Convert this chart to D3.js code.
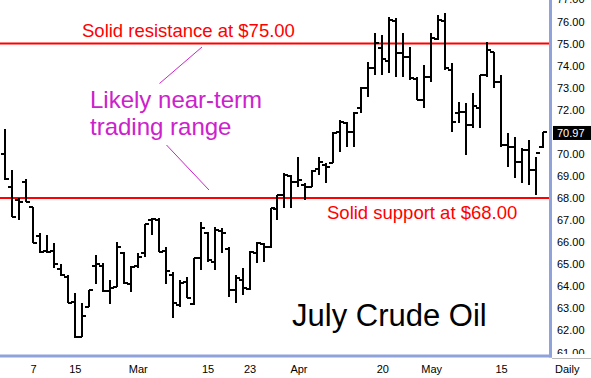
<!DOCTYPE html>
<html>
<head>
<meta charset="utf-8">
<script src="https://cdn.jsdelivr.net/npm/d3@7"></script>
<style>
  html, body { margin: 0; padding: 0; background: #fff; }
  svg { display: block; }
</style>
</head>
<body>
<div id="chart"></div>
<script>
// trading days, Feb 1 - May 23
const dates = [
  "2/1","2/2","2/3","2/6","2/7","2/8","2/9","2/10","2/13","2/14","2/15","2/16","2/17","2/21","2/22","2/23","2/24","2/27","2/28",
  "3/1","3/2","3/3","3/6","3/7","3/8","3/9","3/10","3/13","3/14","3/15","3/16","3/17","3/20","3/21","3/22","3/23","3/24","3/27","3/28","3/29","3/30","3/31",
  "4/3","4/4","4/5","4/6","4/7","4/10","4/11","4/12","4/13","4/17","4/18","4/19","4/20","4/21","4/24","4/25","4/26","4/27","4/28",
  "5/1","5/2","5/3","5/4","5/5","5/8","5/9","5/10","5/11","5/12","5/15","5/16","5/17","5/18","5/19","5/22","5/23"
];
const opens = [
  70.00,68.50,67.90,68.74,67.59,66.30,65.60,65.60,64.80,64.40,63.30,61.70,63.06,64.92,64.90,63.80,63.97,65.50,64.10,
  64.90,65.50,67.00,67.00,65.60,64.51,63.15,64.20,63.20,65.30,66.40,65.11,66.50,65.69,63.83,64.30,63.86,65.50,65.90,65.80,67.50,68.14,69.00,
  68.74,68.60,68.50,69.30,69.50,69.60,71.00,71.38,71.00,72.06,72.97,73.90,74.80,74.21,76.00,74.55,74.40,73.40,72.44,
  73.50,75.20,76.00,73.80,71.85,71.90,71.30,72.10,73.57,74.60,73.27,70.40,70.30,69.64,70.17,69.27,70.30
];
const highs = [
  71.13,69.27,68.00,68.86,67.59,66.41,66.32,65.96,65.00,64.51,63.70,63.24,63.83,65.42,65.05,64.28,66.00,65.55,64.90,
  65.51,66.82,67.09,67.09,65.78,64.65,64.28,64.42,65.28,66.91,66.46,66.68,66.64,65.78,64.51,64.83,65.60,66.00,65.96,67.55,68.14,69.13,69.04,
  69.86,68.67,69.27,69.86,69.59,71.00,71.53,71.45,71.90,73.04,74.18,75.48,75.39,76.20,76.16,75.48,74.84,73.48,74.02,
  75.48,76.29,76.38,74.12,72.35,72.30,72.75,73.57,75.07,74.61,73.57,70.94,70.76,70.26,70.63,69.86,71.00
];
const lows = [
  68.82,67.14,67.00,67.82,65.96,65.51,65.51,64.83,64.47,63.24,61.66,61.70,63.06,64.10,63.74,63.20,63.97,64.10,63.74,
  64.83,65.33,66.32,65.55,64.10,62.56,63.06,63.47,63.15,64.74,65.10,64.74,65.51,63.52,63.24,63.60,63.83,65.05,65.10,65.73,67.00,67.55,67.55,
  68.50,67.90,68.50,69.04,68.68,69.59,70.08,70.31,70.31,71.84,72.59,73.57,73.57,73.66,73.48,73.48,73.34,72.44,72.08,
  73.25,75.16,73.80,70.99,71.40,69.95,71.17,71.17,73.48,72.98,70.31,69.41,68.90,68.68,68.59,68.14,70.26
];
const closes = [
  68.85,67.15,67.80,67.83,65.97,65.55,65.55,65.00,64.50,63.25,61.70,62.67,63.83,65.00,63.80,63.92,65.79,64.15,64.89,
  65.34,66.82,67.05,65.57,64.69,63.23,64.13,63.48,65.27,66.63,65.19,66.55,66.40,63.83,64.36,63.91,65.57,65.96,65.79,67.53,68.14,69.04,68.74,
  68.81,68.51,69.24,69.64,69.42,70.93,71.46,71.00,71.84,72.97,73.88,75.01,74.30,76.06,74.56,74.40,73.42,72.44,73.49,
  75.24,76.06,73.88,71.46,71.90,71.31,72.17,73.57,74.70,73.27,70.40,70.32,69.64,70.17,69.27,70.02,70.97
];

const tickDates = ["2/7", "2/15", "3/1", "3/15", "3/23", "4/3", "4/20", "5/1", "5/15"];
const tickLabels = ["7", "15", "Mar", "15", "23", "Apr", "20", "May", "15"];
const priceTicks = [61, 62, 63, 64, 65, 66, 67, 68, 69, 70, 71, 72, 73, 74, 75, 76, 77];

const resistance = 75;
const support = 68;

function renderCrudeChart() {
    const width = 591, height = 378;
    const plotRight = 551, plotBottom = 357;
    const font = "'Liberation Sans', Arial, sans-serif";
    const blue = "#8fa2da";
    const magenta = "#cc22cc";

    const data = dates.map((d, i) => ({
        date: d, open: opens[i], high: highs[i], low: lows[i], close: closes[i]
    }));

    const svg = d3.select("#chart").append("svg")
        .attr("width", width)
        .attr("height", height)
        .style("background", "#fff");

    const defs = svg.append("defs");
    defs.append("clipPath").attr("id", "plotclip")
        .append("rect").attr("x", 0).attr("y", 0).attr("width", plotRight - 1).attr("height", plotBottom - 2);
    // clip rect is in the axis group's own (translated) coordinates
    defs.append("clipPath").attr("id", "axisclip")
        .append("rect").attr("x", 0).attr("y", -10).attr("width", width - plotRight).attr("height", plotBottom + 7);

    // Scales
    const x = d3.scalePoint()
        .domain(dates)
        .range([5, 543]);

    const y = d3.scaleLinear()
        .domain([61, 77])
        .range([352.5, -0.6]);

    const px = d => Math.round(x(d));

    const plot = svg.append("g").attr("clip-path", "url(#plotclip)");

    // Support / resistance lines
    plot.selectAll(".level")
        .data([resistance, support])
        .enter()
        .append("line")
        .attr("x1", 0)
        .attr("x2", plotRight)
        .attr("y1", d => y(d))
        .attr("y2", d => y(d))
        .attr("stroke", "#ff0000")
        .attr("stroke-width", 2);

    // OHLC bars
    const bars = plot.append("g")
        .attr("stroke", "#000")
        .attr("stroke-width", 2)
        .attr("shape-rendering", "crispEdges");

    bars.selectAll(".hl")
        .data(data)
        .enter()
        .append("line")
        .attr("x1", d => px(d.date))
        .attr("x2", d => px(d.date))
        .attr("y1", d => Math.round(y(d.high)))
        .attr("y2", d => Math.round(y(d.low)));

    bars.selectAll(".op")
        .data(data)
        .enter()
        .append("line")
        .attr("x1", d => px(d.date) - 4)
        .attr("x2", d => px(d.date))
        .attr("y1", d => Math.round(y(d.open)))
        .attr("y2", d => Math.round(y(d.open)));

    bars.selectAll(".cl")
        .data(data)
        .enter()
        .append("line")
        .attr("x1", d => px(d.date))
        .attr("x2", d => px(d.date) + 4)
        .attr("y1", d => Math.round(y(d.close)))
        .attr("y2", d => Math.round(y(d.close)));

    // Right price axis
    const yAxis = svg.append("g")
        .attr("transform", `translate(${plotRight}, 0)`)
        .attr("clip-path", "url(#axisclip)")
        .call(d3.axisRight(y).tickValues(priceTicks).tickFormat(d3.format(".2f")).tickSize(0).tickPadding(6));
    yAxis.select(".domain").remove();
    yAxis.selectAll("text")
        .attr("font-family", font)
        .attr("font-size", 11)
        .attr("fill", "#000");

    // last price box
    const last = closes[closes.length - 1];
    svg.append("rect")
        .attr("x", 553)
        .attr("y", y(last) - 6.5)
        .attr("width", 38)
        .attr("height", 14)
        .attr("fill", "#000");
    svg.append("text")
        .attr("x", 557)
        .attr("y", y(last) + 0.5)
        .attr("dy", "0.35em")
        .attr("font-family", font)
        .attr("font-size", 11)
        .attr("fill", "#fff")
        .text(d3.format(".2f")(last));

    // Bottom date axis
    const xAxis = svg.append("g")
        .attr("transform", `translate(0, ${plotBottom})`)
        .call(d3.axisBottom(x).tickValues(tickDates).tickFormat((d, i) => tickLabels[i]).tickSize(0).tickPadding(8));
    xAxis.select(".domain").remove();
    xAxis.selectAll("text")
        .attr("font-family", font)
        .attr("font-size", 11)
        .attr("fill", "#000");

    svg.append("text")
        .attr("x", 555)
        .attr("y", 373)
        .attr("font-family", font)
        .attr("font-size", 11)
        .text("Daily");

    // frame lines
    svg.append("rect")
        .attr("x", 0).attr("y", 354.5).attr("width", plotRight + 1).attr("height", 3)
        .attr("fill", blue);
    svg.append("rect")
        .attr("x", 549).attr("y", 0).attr("width", 3).attr("height", 357.5)
        .attr("fill", blue);
    svg.append("line")
        .attr("x1", 552).attr("x2", width).attr("y1", 358.5).attr("y2", 358.5)
        .attr("stroke", "#b8b8b8").attr("stroke-width", 1);

    // Annotations
    svg.append("text")
        .attr("x", 82)
        .attr("y", 37)
        .attr("font-family", font)
        .attr("font-size", 18.5)
        .attr("fill", "#ff0000")
        .text("Solid resistance at $" + d3.format(".2f")(resistance));

    svg.append("text")
        .attr("x", 327)
        .attr("y", 218.5)
        .attr("font-family", font)
        .attr("font-size", 18.5)
        .attr("fill", "#ff0000")
        .text("Solid support at $" + d3.format(".2f")(support));

    const range = svg.append("text")
        .attr("font-family", font)
        .attr("font-size", 24)
        .attr("fill", magenta);
    range.append("tspan").attr("x", 90).attr("y", 107.5).text("Likely near-term");
    range.append("tspan").attr("x", 90).attr("y", 135).text("trading range");

    svg.append("line")
        .attr("x1", 159.5).attr("y1", 83.5).attr("x2", 202).attr("y2", 47)
        .attr("stroke", magenta).attr("stroke-width", 1);
    svg.append("line")
        .attr("x1", 166.5).attr("y1", 145).attr("x2", 209).attr("y2", 190)
        .attr("stroke", magenta).attr("stroke-width", 1);

    svg.append("text")
        .attr("x", 292)
        .attr("y", 326)
        .attr("font-family", font)
        .attr("font-size", 31)
        .attr("fill", "#000")
        .text("July Crude Oil");
}

renderCrudeChart();
</script>
</body>
</html>
